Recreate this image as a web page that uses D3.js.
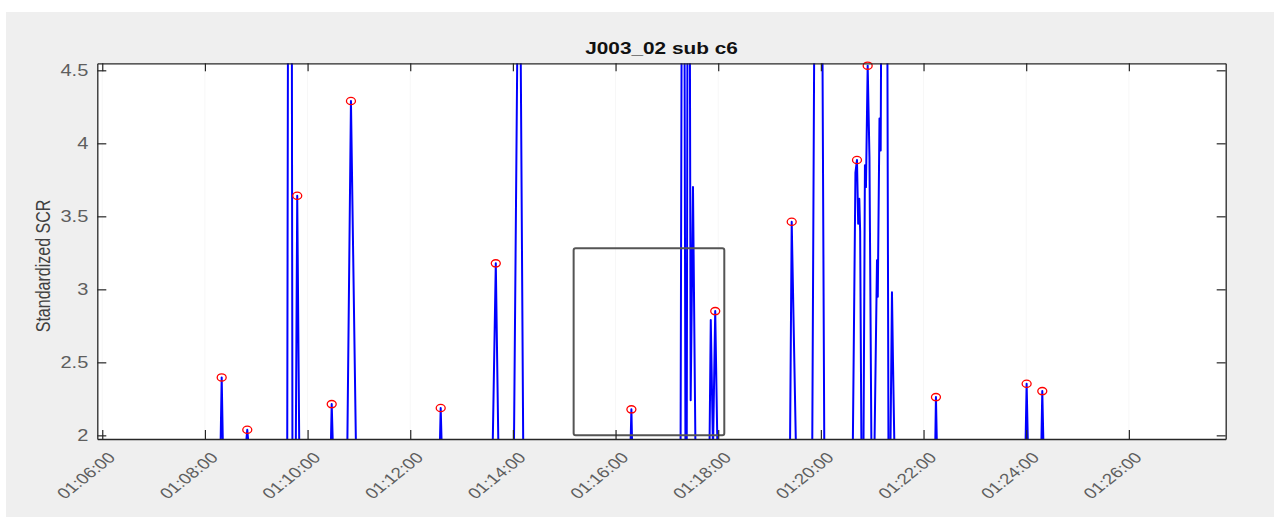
<!DOCTYPE html>
<html>
<head>
<meta charset="utf-8">
<script src="https://cdn.jsdelivr.net/npm/d3@7"></script>
<style>
  body { margin: 0; background: #fff; }
  svg { display: block; font-family: "Liberation Sans", Arial, sans-serif; }
</style>
</head>
<body>
<div id="chart"></div>
<script>
// time is in seconds after 01:00:00
const times = [
  354, 498.2, 499.6, 501.1, 527.4, 529.5, 531.5,
  576.2, 577.6, 581.2, 582.3, 586.2, 587.9, 590.3,
  627.1, 628.2, 629.7, 646.4, 650.7, 656.6,
  754.5, 755.6, 756.9, 816.3, 820.0, 823.1,
  841.2, 847.4, 852.1, 977.4, 978.5, 979.5,
  1036.0, 1039.0, 1041.7, 1043.2, 1045.3, 1047.8, 1050.5, 1053.4,
  1069.8, 1071.3, 1073.9, 1076.5, 1079.1,
  1163.9, 1165.9, 1170.9, 1189.9, 1193.3, 1200.8, 1204.0,
  1237.3, 1240.4, 1242.2, 1243.6, 1244.9, 1245.9, 1247.4,
  1249.8, 1251.5, 1252.7, 1254.7, 1256.8, 1259.1,
  1262.6, 1265.6, 1266.5, 1268.5, 1269.9, 1272.0, 1276.7, 1279.0,
  1281.3, 1283.1, 1284.3, 1286.0,
  1333.6, 1334.5, 1335.7, 1439.1, 1440.5, 1442.1,
  1457.6, 1458.8, 1460.3, 1673
];
const scr = [
  1.9, 1.9, 2.397, 1.9, 1.9, 2.038, 1.9,
  1.9, 6.5, 6.5, 1.9, 1.9, 3.641, 1.9,
  1.9, 2.214, 1.9, 1.9, 4.29, 1.9,
  1.9, 2.187, 1.9, 1.9, 3.178, 1.9,
  1.9, 6.2, 1.9, 1.9, 2.178, 1.9,
  1.9, 9, 1.9, 1.9, 9, 2.24, 3.70, 1.9,
  1.9, 2.79, 1.9, 2.851, 1.9,
  1.9, 3.463, 1.9, 1.9, 6, 6, 1.9,
  1.9, 3.80, 3.886, 3.45, 3.62, 3.40, 1.9,
  1.9, 3.85, 3.70, 4.532, 3.9, 1.9,
  1.9, 3.20, 2.95, 4.17, 3.95, 7, 7, 1.9,
  1.9, 2.98, 2.50, 1.9,
  1.9, 2.262, 1.9, 1.9, 2.353, 1.9,
  1.9, 2.303, 1.9, 1.9
];

// detected peaks (red circles)
const peakTimes = [499.6, 529.5, 587.9, 628.2, 650.7, 755.6, 820.0, 978.5,
  1076.5, 1165.9, 1242.2, 1254.7, 1334.5, 1440.5, 1458.8];
const peakValues = [2.397, 2.038, 3.641, 2.214, 4.29, 2.187, 3.178, 2.178,
  2.851, 3.463, 3.886, 4.532, 2.262, 2.353, 2.303];

const xTicks = [360, 480, 600, 720, 840, 960, 1080, 1200, 1320, 1440, 1560];
const yTicks = [2, 2.5, 3, 3.5, 4, 4.5];
const xLimits = [354.2, 1673.2];
const yLimits = [1.975, 4.548];

// zoom rectangle drawn on the axes
const boxTimes = [911.0, 1087.1];
const boxValues = [2.0, 3.281];

const title = "J003_02 sub c6";
const yLabel = "Standardized SCR";

const width = 1274, height = 517;
const plot = { left: 97.3, top: 63.3, right: 1225.7, bottom: 439 };
const stretch = 1.25; // the screenshot text is a bit wide

const svg = d3.select("#chart")
  .append("svg")
    .attr("width", width)
    .attr("height", height);

svg.append("rect")
  .attr("x", 6).attr("y", 12)
  .attr("width", width - 6).attr("height", height - 12)
  .attr("fill", "#efefef");

svg.append("rect")
  .attr("x", plot.left).attr("y", plot.top)
  .attr("width", plot.right - plot.left).attr("height", plot.bottom - plot.top)
  .attr("fill", "#fff");

const x = d3.scaleLinear().domain(xLimits).range([plot.left, plot.right]);
const y = d3.scaleLinear().domain(yLimits).range([plot.bottom, plot.top]);

const pad = d3.format("02d");
const clock = s => `${pad(1 + Math.floor(s / 3600))}:${pad(Math.floor(s / 60) % 60)}:${pad(Math.round(s) % 60)}`;

// very faint vertical lines under the ticks
svg.append("g")
  .selectAll("line")
  .data(xTicks)
  .join("line")
    .attr("x1", d => x(d)).attr("x2", d => x(d))
    .attr("y1", plot.top).attr("y2", plot.bottom)
    .attr("stroke", "#f7f7f7");

svg.append("clipPath").attr("id", "clip")
  .append("rect")
    .attr("x", plot.left).attr("y", plot.top)
    .attr("width", plot.right - plot.left).attr("height", plot.bottom - plot.top);

const points = times.map((t, i) => [t, scr[i]]);
const line = d3.line().x(d => x(d[0])).y(d => y(d[1]));

svg.append("path")
  .datum(points)
  .attr("clip-path", "url(#clip)")
  .attr("d", line)
  .attr("fill", "none")
  .attr("stroke", "#0000ff")
  .attr("stroke-width", 2)
  .attr("stroke-linejoin", "round");

svg.append("g")
  .selectAll("ellipse")
  .data(peakTimes.map((t, i) => [t, peakValues[i]]))
  .join("ellipse")
    .attr("cx", d => x(d[0]))
    .attr("cy", d => y(d[1]))
    .attr("rx", 4.5)
    .attr("ry", 3.6)
    .attr("fill", "none")
    .attr("stroke", "#ff0000")
    .attr("stroke-width", 1.3);

svg.append("rect")
  .attr("x", x(boxTimes[0]))
  .attr("y", y(boxValues[1]))
  .attr("width", x(boxTimes[1]) - x(boxTimes[0]))
  .attr("height", y(boxValues[0]) - y(boxValues[1]))
  .attr("rx", 2)
  .attr("fill", "none")
  .attr("stroke", "#555")
  .attr("stroke-width", 2);

// axes, ticks pointing inward like MATLAB's box
const axisColor = "#262626";
const labelColor = "#5e5e5e";
const styleAxis = g => {
  g.select(".domain").attr("stroke", axisColor).attr("stroke-width", 1.3);
  g.selectAll(".tick line").attr("stroke", axisColor).attr("stroke-width", 1.2);
};

svg.append("g")
  .attr("transform", `translate(0,${plot.bottom})`)
  .call(d3.axisBottom(x).tickValues(xTicks).tickSize(-9).tickSizeOuter(0).tickFormat(clock))
  .call(styleAxis)
  .call(g => g.selectAll(".tick text")
    .attr("y", 0).attr("dy", null)
    .attr("text-anchor", "middle")
    .attr("dominant-baseline", "central")
    .attr("transform", `translate(-16.5,36.8) scale(${stretch},1) rotate(-45)`)
    .attr("fill", labelColor)
    .style("font-size", "15px"));

svg.append("g")
  .attr("transform", `translate(0,${plot.top})`)
  .call(d3.axisTop(x).tickValues(xTicks).tickSize(-8).tickSizeOuter(0).tickFormat(""))
  .call(styleAxis);

svg.append("g")
  .attr("transform", `translate(${plot.left},0)`)
  .call(d3.axisLeft(y).tickValues(yTicks).tickSize(-9).tickSizeOuter(0).tickPadding(7.2).tickFormat(d3.format("")))
  .call(styleAxis)
  .call(g => g.selectAll(".tick text")
    .attr("transform", `scale(${stretch},1)`)
    .attr("fill", labelColor)
    .style("font-size", "16px"));

svg.append("g")
  .attr("transform", `translate(${plot.right},0)`)
  .call(d3.axisRight(y).tickValues(yTicks).tickSize(-9).tickSizeOuter(0).tickFormat(""))
  .call(styleAxis);

svg.append("text")
  .attr("transform", `translate(${(plot.left + plot.right) / 2},54) scale(1.3,1)`)
  .attr("text-anchor", "middle")
  .attr("fill", "#111")
  .style("font-size", "16px")
  .style("font-weight", "bold")
  .text(title);

svg.append("text")
  .attr("transform", `translate(50,266) scale(${stretch},1) rotate(-90)`)
  .attr("text-anchor", "middle")
  .attr("fill", "#404040")
  .style("font-size", "16px")
  .text(yLabel);
</script>
</body>
</html>
